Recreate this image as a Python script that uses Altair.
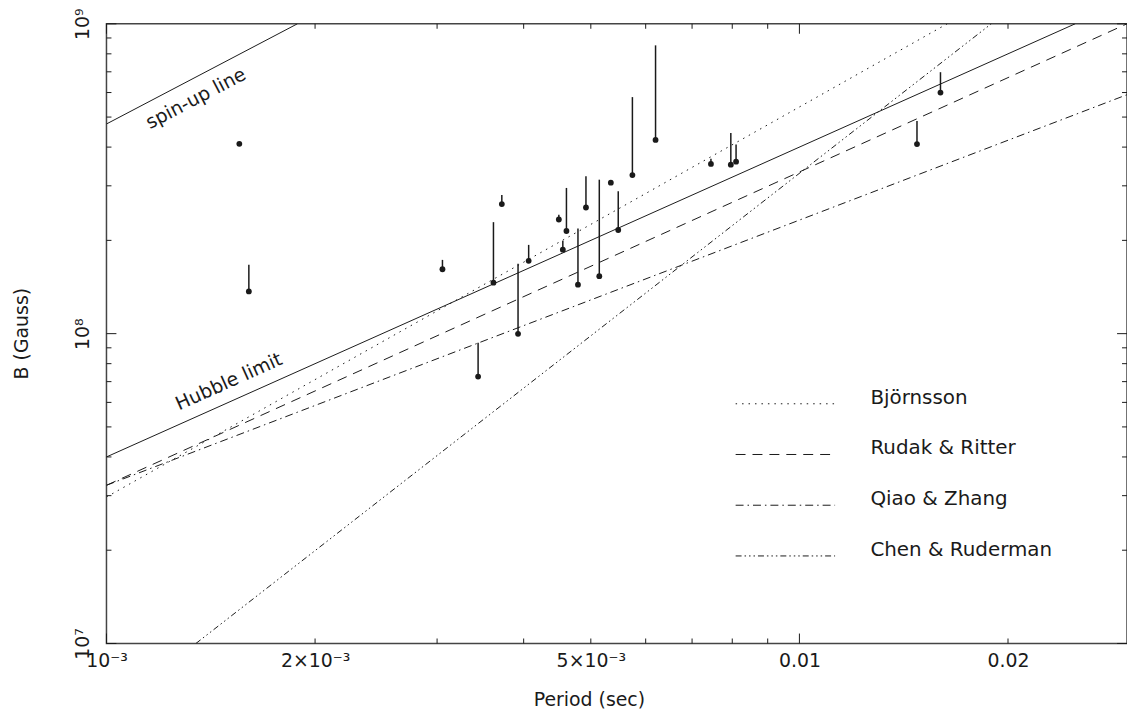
import altair as alt
import pandas as pd

# ---------------- data ----------------
# millisecond pulsars: spin period (s), field estimate (G), upper end of the bar (G)
period = [1.555e-3, 1.605e-3, 3.054e-3, 3.438e-3, 3.618e-3, 3.72e-3, 3.926e-3,
          4.067e-3, 4.496e-3, 4.556e-3, 4.611e-3, 4.791e-3, 4.92e-3, 5.143e-3,
          5.344e-3, 5.477e-3, 5.741e-3, 6.2e-3, 7.453e-3, 7.962e-3, 8.102e-3,
          1.478e-2, 1.598e-2]
b_field = [4.10e8, 1.369e8, 1.614e8, 7.27e7, 1.46e8, 2.62e8, 9.99e7,
           1.718e8, 2.336e8, 1.867e8, 2.144e8, 1.439e8, 2.553e8, 1.533e8,
           3.07e8, 2.16e8, 3.25e8, 4.22e8, 3.53e8, 3.51e8, 3.59e8,
           4.09e8, 6.0e8]
b_upper = [4.10e8, 1.668e8, 1.73e8, 9.34e7, 2.29e8, 2.80e8, 1.68e8,
           1.934e8, 2.42e8, 1.996e8, 2.953e8, 2.186e8, 3.22e8, 3.14e8,
           3.07e8, 2.88e8, 5.80e8, 8.52e8, 3.67e8, 4.44e8, 4.08e8,
           4.86e8, 6.98e8]

# death-line models (end points of each straight line in log-log space)
model_names = ["Björnsson", "Rudak & Ritter", "Qiao & Zhang", "Chen & Ruderman"]
model_p_start = [1.0e-3, 1.0e-3, 1.0e-3, 1.346e-3]
model_b_start = [2.97e7, 3.24e7, 3.24e7, 1.0e7]
model_p_end = [1.634e-2, 2.97e-2, 2.97e-2, 1.892e-2]
model_b_end = [1.0e9, 1.0e9, 5.904e8, 1.0e9]

# solid limit lines
limit_names = ["spin-up line", "Hubble limit"]
limit_p_start = [1.0e-3, 1.0e-3]
limit_b_start = [4.75e8, 4.0e7]
limit_p_end = [1.886e-3, 2.5e-2]
limit_b_end = [1.0e9, 1.0e9]

# labelled ticks
x_label_values = [0.001, 0.002, 0.005, 0.01, 0.02]
x_label_texts = ["10⁻³", "2×10⁻³", "5×10⁻³", "0.01", "0.02"]
y_label_values = [1e7, 1e8, 1e9]
y_label_texts = ["10⁷", "10⁸", "10⁹"]
x_major = [0.001, 0.01]
x_minor = [0.002, 0.003, 0.004, 0.005, 0.006, 0.007, 0.008, 0.009, 0.02]
y_major = [1e7, 1e8, 1e9]
y_minor = [2e7, 3e7, 4e7, 5e7, 6e7, 7e7, 8e7, 9e7,
           2e8, 3e8, 4e8, 5e8, 6e8, 7e8, 8e8, 9e8]

# ---------------- tables ----------------
pts = pd.DataFrame({"P": period, "B": b_field, "Bup": b_upper})
models = pd.DataFrame({
    "model": model_names * 2,
    "P": model_p_start + model_p_end,
    "B": model_b_start + model_b_end,
})
limits = pd.DataFrame({
    "name": limit_names * 2,
    "P": limit_p_start + limit_p_end,
    "B": limit_b_start + limit_b_end,
})
spin_lab = pd.DataFrame({"P": [1.346e-3], "B": [5.74e8], "t": ["spin-up line"]})
hub_lab = pd.DataFrame({"P": [1.502e-3], "B": [7.0e7], "t": ["Hubble limit"]})

W, H = 1026, 623
FONT = "DejaVu Sans"
INK = "#1a1a1a"

xs = alt.Scale(type="log", domain=[0.001, 0.0297], nice=False)
ys = alt.Scale(type="log", domain=[1e7, 1e9], nice=False)


def label_expr(values, texts):
    parts = []
    for v, t in zip(values, texts):
        parts.append(f"abs(log(datum.value) - log({v!r})) < 0.01 ? '{t}' : ")
    return "".join(parts) + "''"


x_axis = alt.Axis(
    values=x_label_values,
    labelExpr=label_expr(x_label_values, x_label_texts),
    title="Period (sec)",
)
y_axis = alt.Axis(
    values=y_label_values,
    labelExpr=label_expr(y_label_values, y_label_texts),
    title="B (Gauss)",
)


def X(field):
    return alt.X(field, scale=xs, axis=x_axis)


def Y(field):
    return alt.Y(field, scale=ys, axis=y_axis)


base_pts = alt.Chart(pts)

bars = base_pts.mark_rule(color=INK, strokeWidth=1.5).encode(
    x=X("P:Q"), y=Y("B:Q"), y2="Bup:Q",
)
dots = base_pts.mark_circle(color=INK, size=34, opacity=1).encode(
    x=X("P:Q"), y=Y("B:Q"),
)

model_lines = alt.Chart(models).mark_line(color=INK, strokeWidth=1, clip=True).encode(
    x=X("P:Q"),
    y=Y("B:Q"),
    strokeDash=alt.StrokeDash(
        "model:N",
        title=None,
        sort=model_names,
        scale=alt.Scale(
            domain=model_names,
            range=[[1.5, 5], [10, 7], [8, 4, 1.5, 4], [6, 3, 1.5, 3, 1.5, 3, 1.5, 3]],
        ),
        legend=alt.Legend(
            orient="none", legendX=632, legendY=367, padding=0,
            symbolType="stroke", symbolSize=10000, symbolStrokeWidth=1,
            symbolStrokeColor=INK, clipHeight=30, rowPadding=20,
            labelOffset=35, labelFont=FONT, labelFontSize=20, labelColor=INK,
            labelBaseline="alphabetic", labelLimit=400,
        ),
    ),
)

limit_lines = alt.Chart(limits).mark_line(color=INK, strokeWidth=1, clip=True).encode(
    x=X("P:Q"), y=Y("B:Q"), detail="name:N",
)

spin_text = alt.Chart(spin_lab).mark_text(
    angle=332.3, font=FONT, fontSize=19, color=INK, align="center", baseline="middle"
).encode(x=X("P:Q"), y=Y("B:Q"), text="t:N")
hub_text = alt.Chart(hub_lab).mark_text(
    angle=335.9, font=FONT, fontSize=19, color=INK, align="center", baseline="middle"
).encode(x=X("P:Q"), y=Y("B:Q"), text="t:N")


def tick_layer(vals, side, length):
    df = pd.DataFrame({"P": vals, "B": vals})
    c = alt.Chart(df).mark_rule(color=INK, strokeWidth=1)
    if side == "bottom":
        return c.encode(x=X("P:Q"), y=alt.value(H), y2=alt.value(H - length))
    if side == "top":
        return c.encode(x=X("P:Q"), y=alt.value(0), y2=alt.value(length))
    if side == "left":
        return c.encode(y=Y("B:Q"), x=alt.value(0), x2=alt.value(length))
    return c.encode(y=Y("B:Q"), x=alt.value(W), x2=alt.value(W - length))


ticks = [
    tick_layer(x_major, "bottom", 10), tick_layer(x_minor, "bottom", 5),
    tick_layer(x_major, "top", 10), tick_layer(x_minor, "top", 5),
    tick_layer(y_major, "left", 10), tick_layer(y_minor, "left", 5),
    tick_layer(y_major, "right", 10), tick_layer(y_minor, "right", 5),
]

chart = alt.layer(
    bars, dots, model_lines, limit_lines, spin_text, hub_text, *ticks
).properties(
    width=W, height=H,
    autosize=alt.AutoSizeParams(type="none"),
    padding={"left": 99, "top": 14, "right": 0, "bottom": 68},
    background="white",
).configure_view(
    stroke="#444444", strokeWidth=1.5
).configure_axis(
    ticks=False, domain=False, grid=False,
    labelFont=FONT, labelFontSize=19, labelColor=INK,
    labelFlush=False, labelOverlap=False,
    titleFont=FONT, titleFontSize=19, titleFontWeight="normal", titleColor=INK,
).configure_axisX(
    labelPadding=8, titleX=485, titleY=62, titleAlign="center", titleBaseline="alphabetic",
).configure_axisY(
    labelPadding=14, labelAngle=270, labelAlign="center", labelBaseline="bottom",
    titleAngle=270, titleX=-85, titleY=311, titleAlign="center", titleBaseline="middle",
)

chart.save("out.html", embed_options={"renderer": "svg", "actions": False})
